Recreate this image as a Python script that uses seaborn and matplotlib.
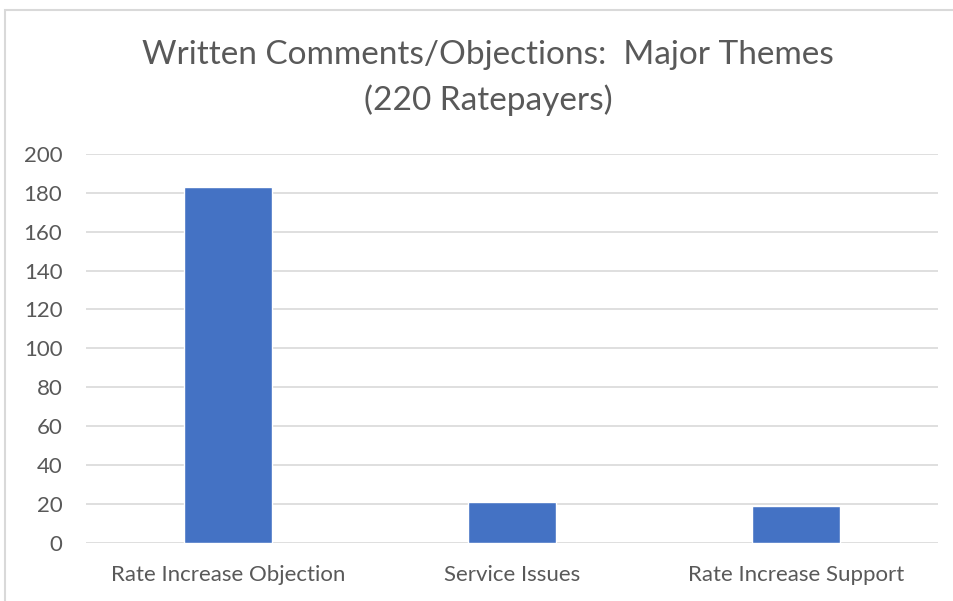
import matplotlib
matplotlib.use("Agg")
import matplotlib.pyplot as plt
import seaborn as sns
import pandas as pd
from matplotlib.patches import Rectangle

# Chart data
categories = ["Rate Increase Objection", "Service Issues", "Rate Increase Support"]
counts = [183, 21, 19]
y_ticks = [0, 20, 40, 60, 80, 100, 120, 140, 160, 180, 200]

df = pd.DataFrame({"Theme": categories, "Count": counts})

sns.set_style("white")
plt.rcParams["font.family"] = ["Lato", "DejaVu Sans"]

W, H = 954, 601
fig = plt.figure(figsize=(W / 100, H / 100), dpi=100)
ax = fig.add_axes([86 / W, 1 - 542.7 / H, 852 / W, (542.7 - 154) / H])

sns.barplot(data=df, x="Theme", y="Count", color="#4472C4", width=0.31,
            saturation=1, ax=ax, zorder=3)

ax.set_ylim(0, 200)
ax.set_xlim(-0.5, 2.5)
ax.set_yticks(y_ticks)
ax.yaxis.grid(True, color="#d9d9d9", linewidth=1.2, zorder=0)
ax.set_axisbelow(True)
for s in ax.spines.values():
    s.set_visible(False)
ax.tick_params(axis="both", length=0, labelsize=16, colors="#595959")
ax.tick_params(axis="x", pad=16)
ax.tick_params(axis="y", pad=17)
ax.set_xlabel("")
ax.set_ylabel("")

fig.text(488 / W, 1 - 55 / H, "Written Comments/Objections:  Major Themes",
         ha="center", va="center", fontsize=24, color="#595959")
fig.text(488 / W, 1 - 100 / H, "(220 Ratepayers)",
         ha="center", va="center", fontsize=24, color="#595959")

# light chart border (left and top edges visible)
fig.patches.append(Rectangle((5 / W, -0.1), 1.1, 1 - 10 / H + 0.1,
                             transform=fig.transFigure, fill=False,
                             edgecolor="#d9d9d9", linewidth=1.5))

fig.savefig("out.png", dpi=100)
